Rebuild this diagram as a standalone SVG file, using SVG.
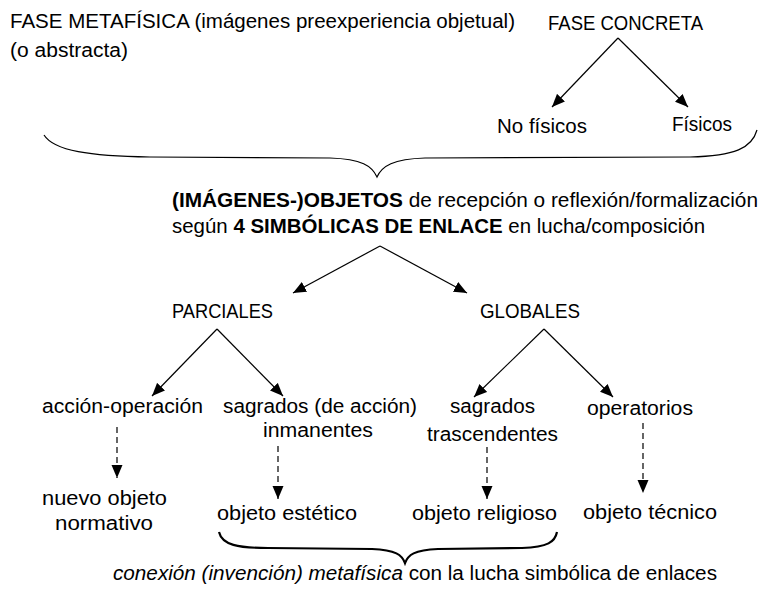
<svg xmlns="http://www.w3.org/2000/svg" width="760" height="597" viewBox="0 0 760 597">
<style>
.t{font-family:"Liberation Sans",Arial,sans-serif;font-size:20px;fill:#000}
.b{font-weight:bold}
.i{font-style:italic}
.ln{stroke:#000;stroke-width:1.2;fill:none}
.ds{stroke:#000;stroke-width:1.2;fill:none;stroke-dasharray:6,4}
.br{stroke:#000;fill:none}
</style>
<defs>
<marker id="ah" markerUnits="userSpaceOnUse" markerWidth="13" markerHeight="12" viewBox="0 0 13 12" refX="13" refY="6" orient="auto">
<path d="M0,0.5 L13,6 L0,11.5 z" fill="#000"/>
</marker>
</defs>
<rect width="760" height="597" fill="#fff"/>
<g id="fase-metafisica"><text class="t" x="10" y="28" textLength="505" lengthAdjust="spacingAndGlyphs">FASE METAFÍSICA (imágenes preexperiencia objetual)</text><text class="t" x="10" y="57" textLength="118" lengthAdjust="spacingAndGlyphs">(o abstracta)</text></g>
<g id="fase-concreta"><text class="t" x="548" y="30" textLength="155" lengthAdjust="spacingAndGlyphs">FASE CONCRETA</text></g>
<g id="no-fisicos"><text class="t" x="497" y="133" textLength="90" lengthAdjust="spacingAndGlyphs">No físicos</text></g>
<g id="fisicos"><text class="t" x="672" y="131" textLength="60" lengthAdjust="spacingAndGlyphs">Físicos</text></g>
<g id="objetos"><text class="t" x="172" y="207" textLength="586" lengthAdjust="spacingAndGlyphs"><tspan class="b">(IMÁGENES-)OBJETOS</tspan> de recepción o reflexión/formalización</text><text class="t" x="172" y="233" textLength="533" lengthAdjust="spacingAndGlyphs">según <tspan class="b">4 SIMBÓLICAS DE ENLACE</tspan> en lucha/composición</text></g>
<g id="parciales"><text class="t" x="172" y="318" textLength="101" lengthAdjust="spacingAndGlyphs">PARCIALES</text></g>
<g id="globales"><text class="t" x="480" y="318" textLength="100" lengthAdjust="spacingAndGlyphs">GLOBALES</text></g>
<g id="accion-operacion"><text class="t" x="42" y="413" textLength="161" lengthAdjust="spacingAndGlyphs">acción-operación</text></g>
<g id="sagrados-inmanentes"><text class="t" x="223" y="413" textLength="194" lengthAdjust="spacingAndGlyphs">sagrados (de acción)</text><text class="t" x="263" y="437" textLength="110" lengthAdjust="spacingAndGlyphs">inmanentes</text></g>
<g id="sagrados-trascendentes"><text class="t" x="450" y="413" textLength="85" lengthAdjust="spacingAndGlyphs">sagrados</text><text class="t" x="427" y="441" textLength="131" lengthAdjust="spacingAndGlyphs">trascendentes</text></g>
<g id="operatorios"><text class="t" x="587" y="415" textLength="106" lengthAdjust="spacingAndGlyphs">operatorios</text></g>
<g id="nuevo-objeto"><text class="t" x="42" y="505" textLength="125" lengthAdjust="spacingAndGlyphs">nuevo objeto</text><text class="t" x="55" y="530" textLength="98" lengthAdjust="spacingAndGlyphs">normativo</text></g>
<g id="objeto-estetico"><text class="t" x="217" y="520" textLength="140" lengthAdjust="spacingAndGlyphs">objeto estético</text></g>
<g id="objeto-religioso"><text class="t" x="412" y="520" textLength="145" lengthAdjust="spacingAndGlyphs">objeto religioso</text></g>
<g id="objeto-tecnico"><text class="t" x="583" y="519" textLength="134" lengthAdjust="spacingAndGlyphs">objeto técnico</text></g>
<g id="conexion"><text class="t" x="113" y="580" textLength="604" lengthAdjust="spacingAndGlyphs"><tspan class="i">conexión (invención) metafísica</tspan> con la lucha simbólica de enlaces</text></g>
<g id="connectors">
<line class="ln" x1="618" y1="38" x2="552" y2="107" marker-end="url(#ah)"/>
<line class="ln" x1="618" y1="38" x2="688" y2="107" marker-end="url(#ah)"/>
<path class="br" stroke-width="1.2" d="M44,135 C54,151 90,156 150,157 L330,158 C362,159 372,166 377,177 C382,166 393,159 425,158 L690,157 C735,156 752,148 757,130"/>
<line class="ln" x1="380" y1="246" x2="293" y2="293" marker-end="url(#ah)"/>
<line class="ln" x1="380" y1="246" x2="467" y2="293" marker-end="url(#ah)"/>
<line class="ln" x1="217" y1="329" x2="152" y2="396" marker-end="url(#ah)"/>
<line class="ln" x1="217" y1="329" x2="283" y2="396" marker-end="url(#ah)"/>
<line class="ln" x1="544" y1="329" x2="474" y2="397" marker-end="url(#ah)"/>
<line class="ln" x1="544" y1="329" x2="613" y2="397" marker-end="url(#ah)"/>
<line class="ds" x1="117" y1="427" x2="117" y2="478" marker-end="url(#ah)"/>
<line class="ds" x1="278" y1="446" x2="278" y2="499" marker-end="url(#ah)"/>
<line class="ds" x1="487" y1="447" x2="487" y2="499" marker-end="url(#ah)"/>
<line class="ds" x1="643" y1="423" x2="643" y2="493" marker-end="url(#ah)"/>
<path class="br" stroke-width="2.2" d="M219,532 C222,545 238,548 268,548 L372,549 C396,550 402,555 405,563 C408,555 414,550 438,549 L522,548 C548,547 555,542 557,532"/>
</g>
</svg>
